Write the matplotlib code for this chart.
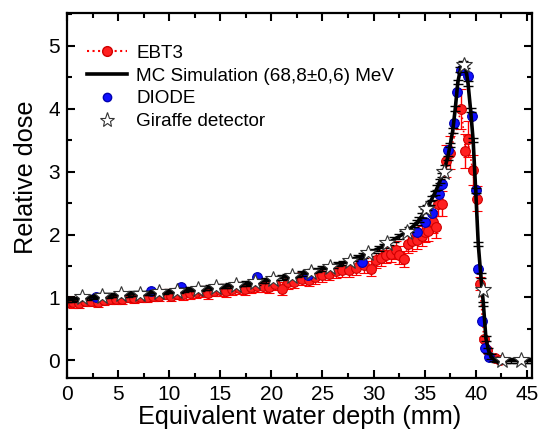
import matplotlib
matplotlib.use("Agg")
import matplotlib.pyplot as plt
from matplotlib.lines import Line2D
from matplotlib.ticker import MultipleLocator

plt.rcParams["font.family"] = ["Liberation Sans", "DejaVu Sans"]

# MC simulation depth-dose curve
mc_x = [0.0, 0.5, 1.0, 1.5, 2.0, 2.5, 3.0, 3.5, 4.0, 4.5, 5.0, 5.5, 6.0, 6.5, 7.0, 7.5,
        8.0, 8.5, 9.0, 9.5, 10.0, 10.5, 11.0, 11.5, 12.0, 12.5, 13.0, 13.5, 14.0, 14.5,
        15.0, 15.5, 16.0, 16.5, 17.0, 17.5, 18.0, 18.5, 19.0, 19.5, 20.0, 20.5, 21.0,
        21.5, 22.0, 22.5, 23.0, 23.5, 24.0, 24.5, 25.0, 25.5, 26.0, 26.5, 27.0, 27.5,
        28.0, 28.5, 29.0, 29.5, 30.0, 30.5, 31.0, 31.5, 32.0, 32.5, 33.0, 33.5, 34.0,
        34.25, 34.5, 34.75, 35.0, 35.25, 35.5, 35.75, 36.0, 36.25, 36.5, 36.75, 37.0,
        37.25, 37.5, 37.75, 38.0, 38.25, 38.5, 38.75, 39.0, 39.25, 39.5, 39.75, 40.0,
        40.25, 40.5, 40.75, 41.0, 41.25, 41.5, 41.75, 42.0, 42.5, 43.0, 43.5, 44.0,
        44.5, 45.0, 45.5]
mc_y = [0.96, 0.97, 0.98, 0.99, 1.00, 1.01, 1.02, 1.03, 1.03, 1.04, 1.04, 1.05, 1.05,
        1.06, 1.06, 1.07, 1.07, 1.08, 1.08, 1.09, 1.10, 1.10, 1.11, 1.12, 1.13, 1.13,
        1.14, 1.15, 1.16, 1.17, 1.18, 1.18, 1.19, 1.20, 1.21, 1.22, 1.23, 1.24, 1.26,
        1.27, 1.29, 1.31, 1.32, 1.33, 1.34, 1.36, 1.38, 1.40, 1.42, 1.44, 1.46, 1.48,
        1.50, 1.53, 1.55, 1.58, 1.61, 1.64, 1.67, 1.70, 1.74, 1.78, 1.82, 1.87, 1.92,
        1.97, 2.02, 2.08, 2.15, 2.19, 2.24, 2.30, 2.37, 2.43, 2.50, 2.58, 2.66, 2.75,
        2.85, 2.95, 3.07, 3.22, 3.42, 3.65, 4.00, 4.42, 4.62, 4.72, 4.68, 4.40, 3.98,
        3.50, 2.70, 1.85, 1.35, 0.90, 0.35, 0.16, 0.06, 0.02, 0.01, 0.0, 0.0, 0.0, 0.0,
        0.0, 0.0, 0.0]

# EBT3 film
ebt3_x = [0.0, 0.6, 1.2, 1.8, 2.4, 3.0, 3.6, 4.2, 4.8, 5.4, 6.0, 6.6, 7.2, 7.8, 8.4,
          9.0, 9.6, 10.2, 10.8, 11.4, 12.0, 12.6, 13.2, 13.8, 14.4, 15.0, 15.6, 16.2,
          16.8, 17.4, 18.0, 18.6, 19.2, 19.8, 20.4, 21.0, 21.6, 22.2, 23.0, 23.7, 24.3,
          25.0, 25.6, 26.3, 26.9, 27.6, 28.3, 29.1, 29.8, 30.2, 30.7, 31.2, 31.7, 32.2,
          32.5, 33.0, 33.4, 33.8, 34.3, 34.7, 35.0, 35.3, 35.8, 36.1, 36.3, 36.7, 37.1,
          37.5, 38.6, 39.0, 39.2, 39.7, 40.1, 40.4, 40.8, 41.1, 41.9, 42.4]
ebt3_y = [0.93, 0.92, 0.91, 0.94, 0.95, 0.93, 0.96, 0.97, 0.98, 0.97, 1.00, 0.99, 1.01,
          1.00, 1.02, 1.03, 1.05, 1.02, 1.06, 1.05, 1.07, 1.08, 1.10, 1.07, 1.11, 1.12,
          1.10, 1.13, 1.15, 1.13, 1.16, 1.18, 1.19, 1.17, 1.22, 1.14, 1.24, 1.25, 1.30,
          1.28, 1.32, 1.35, 1.38, 1.42, 1.43, 1.44, 1.47, 1.51, 1.46, 1.59, 1.63, 1.67,
          1.69, 1.75, 1.67, 1.61, 1.85, 1.89, 1.92, 1.98, 2.04, 2.06, 2.20, 2.12, 2.49,
          2.49, 3.17, 3.30, 4.00, 3.33, 3.52, 3.02, 2.57, 1.22, 0.34, 0.17, 0.04, 0.00]
ebt3_err = [0.08, 0.08, 0.08, 0.08, 0.08, 0.08, 0.08, 0.08, 0.08, 0.08, 0.08, 0.08,
            0.08, 0.08, 0.08, 0.08, 0.08, 0.08, 0.09, 0.09, 0.09, 0.09, 0.09, 0.09,
            0.09, 0.09, 0.09, 0.09, 0.09, 0.09, 0.09, 0.10, 0.10, 0.10, 0.10, 0.10,
            0.10, 0.10, 0.10, 0.10, 0.10, 0.11, 0.11, 0.11, 0.11, 0.11, 0.12, 0.12,
            0.12, 0.12, 0.13, 0.13, 0.13, 0.14, 0.14, 0.13, 0.15, 0.15, 0.15, 0.16,
            0.16, 0.16, 0.18, 0.17, 0.20, 0.20, 0.25, 0.26, 0.32, 0.27, 0.28, 0.24,
            0.20, 0.10, 0.03, 0.02, 0.01, 0.01]

# DIODE
diode_x = [2.8, 8.2, 11.2, 18.6, 23.6, 28.9, 34.3, 35.0, 35.7, 36.4, 36.7, 37.3, 37.9,
           38.2, 38.6, 39.2, 39.6, 40.0, 40.2, 40.6, 40.9, 41.3]
diode_y = [1.00, 1.10, 1.17, 1.32, 1.36, 1.57, 2.04, 2.20, 2.35, 2.65, 2.80, 3.34, 3.78,
           4.26, 4.61, 4.52, 3.89, 2.70, 1.46, 0.62, 0.20, 0.06]

# Giraffe detector
giraffe_x = [1.5, 3.4, 5.3, 7.1, 9.0, 10.8, 12.8, 14.6, 16.5, 18.4, 20.2, 22.0, 23.9,
             25.7, 27.7, 29.5, 31.3, 33.3, 35.1, 36.9, 38.9, 40.7, 42.6, 44.4]
giraffe_y = [1.00, 1.03, 1.05, 1.06, 1.08, 1.10, 1.14, 1.17, 1.20, 1.24, 1.30, 1.34,
             1.41, 1.49, 1.58, 1.70, 1.86, 2.04, 2.40, 3.00, 4.70, 1.12, 0.0, 0.0]

mc_label = "MC Simulation (68,8\u00b10,6) MeV"

fig = plt.figure(figsize=(5.4, 4.34), dpi=100)
ax = fig.add_axes([0.124, 0.129, 0.861, 0.841])

ax.errorbar(ebt3_x, ebt3_y, yerr=ebt3_err, color="red", ls=":", lw=1.2,
            marker="o", ms=7, mfc="#ff2020", mec="#d00000", mew=0.8,
            ecolor="red", elinewidth=1.0, capsize=3.5, capthick=1.0, zorder=2)
ax.plot(diode_x, diode_y, ls="none", marker="o", ms=7, mfc="#1010ff",
        mec="#0000b0", mew=0.8, zorder=3)
ax.errorbar(mc_x, mc_y, yerr=0.035, color="black", lw=2.6, ecolor="black",
            elinewidth=1.0, capsize=3.5, capthick=1.0, zorder=4)
ax.plot(giraffe_x, giraffe_y, ls="none", marker="*", ms=12, mfc="white",
        mec="#333333", mew=0.8, zorder=5)

ax.set_xlim(0, 45.5)
ax.set_ylim(-0.28, 5.52)
ax.xaxis.set_major_locator(MultipleLocator(5))
ax.xaxis.set_minor_locator(MultipleLocator(2.5))
ax.yaxis.set_major_locator(MultipleLocator(1))
ax.yaxis.set_minor_locator(MultipleLocator(0.5))
ax.tick_params(which="both", direction="in", top=True, right=True,
               labeltop=False, labelright=False, width=1.5)
ax.tick_params(which="major", length=6, labelsize=15, pad=5)
ax.tick_params(which="minor", length=3.5)
for s in ax.spines.values():
    s.set_linewidth(1.6)

ax.set_xlabel("Equivalent water depth (mm)", fontsize=18.2, labelpad=1)
ax.set_ylabel("Relative dose", fontsize=18.2)
ax.yaxis.set_label_coords(-0.062, 0.55)

handles = [
    Line2D([], [], color="red", ls=":", lw=1.5, marker="o", ms=7,
           mfc="#ff2020", mec="#d00000"),
    Line2D([], [], color="black", lw=2.6),
    Line2D([], [], ls="none", marker="o", ms=6, mfc="#1010ff", mec="#0000b0"),
    Line2D([], [], ls="none", marker="*", ms=11, mfc="white", mec="#333333",
           mew=0.8),
]
labels = ["EBT3", mc_label, "DIODE", "Giraffe detector"]
ax.legend(handles, labels, loc="upper left", bbox_to_anchor=(0.015, 0.95),
          frameon=False, fontsize=13.6, handlelength=2.1, handletextpad=0.5,
          labelspacing=0.3, borderpad=0.2)

fig.savefig("out.png", dpi=100)
